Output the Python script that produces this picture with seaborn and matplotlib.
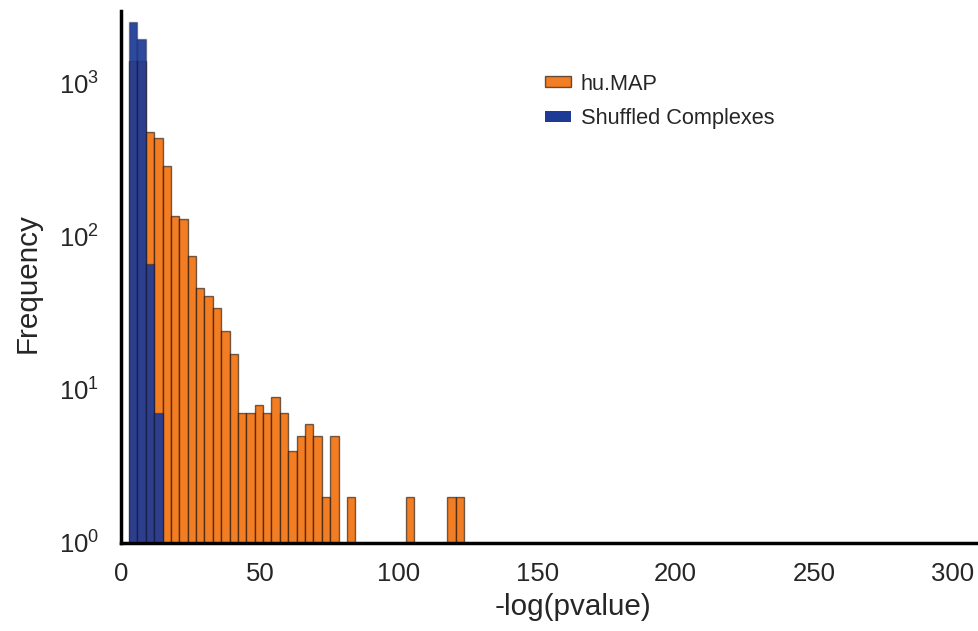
import numpy as np
import pandas as pd
import matplotlib
matplotlib.use("Agg")
import matplotlib.pyplot as plt
import matplotlib.patches as mpatches
import seaborn as sns

# ---- data (40 equal bins of -log(pvalue)) ----
bin_start = 2.78
bin_stop = 123.7
n_bins = 40

humap_counts = [1390, 1400, 482, 440, 288, 136, 130, 74, 46, 41,
                34, 24, 17, 7, 7, 8, 7, 9, 7, 4,
                5, 6, 5, 2, 5, 0, 2, 0, 0, 0,
                0, 0, 0, 2, 0, 0, 0, 0, 2, 2]
shuffled_counts = [2506, 1940, 66, 7, 0, 0, 0, 0, 0, 0,
                   0, 0, 0, 0, 0, 0, 0, 0, 0, 0,
                   0, 0, 0, 0, 0, 0, 0, 0, 0, 0,
                   0, 0, 0, 0, 0, 0, 0, 0, 0, 0]

labels = ["hu.MAP", "Shuffled Complexes"]
x_ticks = [0, 50, 100, 150, 200, 250, 300]
y_ticks = [1, 10, 100, 1000]

orange = "#f27d22"
blue = "#1c3a96"

edges = np.linspace(bin_start, bin_stop, n_bins + 1)
centers = (edges[:-1] + edges[1:]) / 2
df = pd.DataFrame({"center": centers, "humap": humap_counts, "shuffled": shuffled_counts})

sns.set_style("white")
plt.rcParams["font.family"] = ["Liberation Sans", "DejaVu Sans"]

fig = plt.figure(figsize=(9.79, 6.31), dpi=100)
ax_w = 1025 - 121.3
ax_h = 543 - 11.3
ax = fig.add_axes([121.3 / 979, 88 / 631, ax_w / 979, ax_h / 631])

sns.histplot(data=df, x="center", weights="humap", bins=n_bins,
             binrange=(bin_start, bin_stop), ax=ax,
             color=orange, alpha=1.0, edgecolor=(0, 0, 0, 0.55), linewidth=1.0)
sns.histplot(data=df, x="center", weights="shuffled", bins=n_bins,
             binrange=(bin_start, bin_stop), ax=ax,
             color=blue, alpha=0.92, edgecolor=(0, 0, 0, 0.3), linewidth=1.0)

ax.set_yscale("log")
ax.set_ylim(1, 10 ** 3.468)
ax.set_xlim(0, 326)
ax.set_xticks(x_ticks)
ax.set_yticks(y_ticks)
ax.minorticks_off()
ax.tick_params(axis="both", length=0, labelsize=18.5, labelcolor=".15")
ax.tick_params(axis="x", pad=14)
ax.tick_params(axis="y", pad=16)

ax.set_xlabel("-log(pvalue)", fontsize=21.3, color=".15")
ax.set_ylabel("Frequency", fontsize=21.3, color=".15")
ax.xaxis.set_label_coords((573 - 121.3) / ax_w, -(593 - 543) / ax_h)
ax.yaxis.set_label_coords(-(121.3 - 42) / ax_w, (543 - 283) / ax_h)

sns.despine(ax=ax)
for side in ["left", "bottom"]:
    ax.spines[side].set_color("black")
    ax.spines[side].set_linewidth(2.5)
    ax.spines[side].set_zorder(5)

handles = [mpatches.Patch(facecolor=orange, edgecolor=(0, 0, 0, 0.6), linewidth=1.0),
           mpatches.Patch(facecolor=blue, edgecolor="none")]
ax.legend(handles, labels, loc="upper left", bbox_to_anchor=(545 / 979, 1 - 73.5 / 631),
          bbox_transform=fig.transFigure, frameon=False, fontsize=15.7,
          handlelength=1.19, handleheight=0.41, handletextpad=0.46,
          labelspacing=0.64, borderpad=0, borderaxespad=0)

fig.savefig("out.png", dpi=100)
